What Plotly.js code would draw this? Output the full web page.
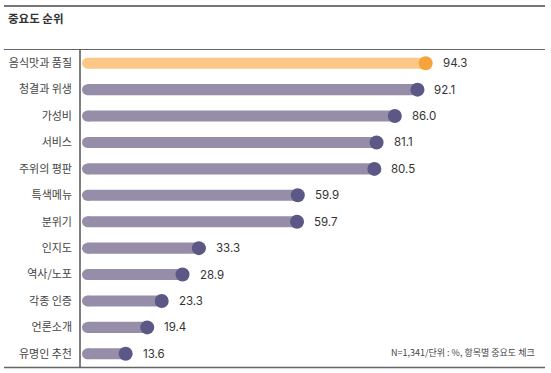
<!DOCTYPE html>
<html>
<head>
<meta charset="utf-8">
<script src="https://cdn.plot.ly/plotly-3.0.1.min.js"></script>
<style>html,body{margin:0;padding:0;background:#fff;}#chart{width:551px;height:373px;}</style>
</head>
<body>
<div id="chart"></div>
<script>
const categories = ["음식맛과 품질","청결과 위생","가성비","서비스","주위의 평판","특색메뉴","분위기","인지도","역사/노포","각종 인증","언론소개","유명인 추천"];
const values = [94.3, 92.1, 86.0, 81.1, 80.5, 59.9, 59.7, 33.3, 28.9, 23.3, 19.4, 13.6];
const highlightIndex = 0;
const noteText = "N=1,341/단위 : %, 항목별 중요도 체크";
const titleText = "중요도 순위";

const FONT = '"Noto Sans CJK KR", "Noto Sans", sans-serif';
const NUMFONT = 'Inter, "Noto Sans", sans-serif';
const BAR_BASE = 3.34;
const barColors = categories.map((c,i)=> i===highlightIndex ? '#FDC887' : '#968DA9');
const dotColors = categories.map((c,i)=> i===highlightIndex ? '#F6A43A' : '#5C5886');

const W = 551, H = 373, L = 80, R = 6, T = 50, B = 6;
const pw = W - L - R, ph = H - T - B;
const px = x => (x - L) / pw;
const py = y => (H - B - y) / ph;

const traces = [
  {
    type: 'bar', orientation: 'h', y: categories,
    x: values.map(v => v - BAR_BASE), base: BAR_BASE,
    width: 0.42, marker: {color: barColors, line: {width: 0}},
    hoverinfo: 'skip', showlegend: false
  },
  {
    type: 'scatter', mode: 'markers', y: categories,
    x: categories.map(() => BAR_BASE),
    marker: {size: 11, color: barColors, line: {width: 0}},
    hoverinfo: 'skip', showlegend: false, cliponaxis: false
  },
  {
    type: 'scatter', mode: 'markers', y: categories, x: values,
    marker: {size: 14, color: dotColors, line: {width: 0}},
    hoverinfo: 'skip', showlegend: false, cliponaxis: false
  }
];

const annotations = values.map((v,i) => ({
  x: v, y: categories[i], xref: 'x', yref: 'y',
  text: v.toFixed(1), showarrow: false, xanchor: 'left', yanchor: 'middle',
  xshift: 15, font: {family: NUMFONT, size: 11.5, color: '#333'}
}));
annotations.push({
  x: px(537), y: py(352), xref: 'paper', yref: 'paper',
  text: noteText, showarrow: false, xanchor: 'right', yanchor: 'middle',
  font: {family: FONT, size: 9, color: '#444'}
});

const lineStyle = {color: '#4a4a4a', width: 1.5};
const shapes = [
  {type: 'line', xref: 'paper', yref: 'paper', x0: px(4), x1: px(545), y0: py(6), y1: py(6), line: lineStyle},
  {type: 'line', xref: 'paper', yref: 'paper', x0: px(4), x1: px(545), y0: py(49.5), y1: py(49.5), line: {color: '#666', width: 1.2}},
  {type: 'line', xref: 'paper', yref: 'paper', x0: px(4), x1: px(545), y0: py(367.5), y1: py(367.5), line: {color: '#666', width: 1.5}},
  {type: 'line', xref: 'paper', yref: 'paper', x0: 0, x1: 0, y0: py(49.5), y1: py(367.5), line: {color: '#555', width: 1.5}}
];

const layout = {
  width: W, height: H,
  margin: {l: L, r: R, t: T, b: B},
  paper_bgcolor: '#fff', plot_bgcolor: '#fff',
  title: {text: '<b>' + titleText + '</b>', x: 8/W, xanchor: 'left', xref: 'container',
          y: 1 - 19/H, yanchor: 'middle', yref: 'container',
          font: {family: FONT, size: 11.5, color: '#333'}},
  xaxis: {range: [1.32, 126.4], visible: false, fixedrange: true},
  yaxis: {type: 'category', autorange: false, range: [11.5, -0.5],
          showgrid: false, zeroline: false, showline: false, ticks: '',
          ticklabelstandoff: 7,
          tickfont: {family: FONT, size: 11, color: '#444'}},
  bargap: 0.5,
  shapes: shapes,
  annotations: annotations,
  showlegend: false
};

Plotly.newPlot('chart', traces, layout, {displayModeBar: false, staticPlot: true});
</script>
</body>
</html>
